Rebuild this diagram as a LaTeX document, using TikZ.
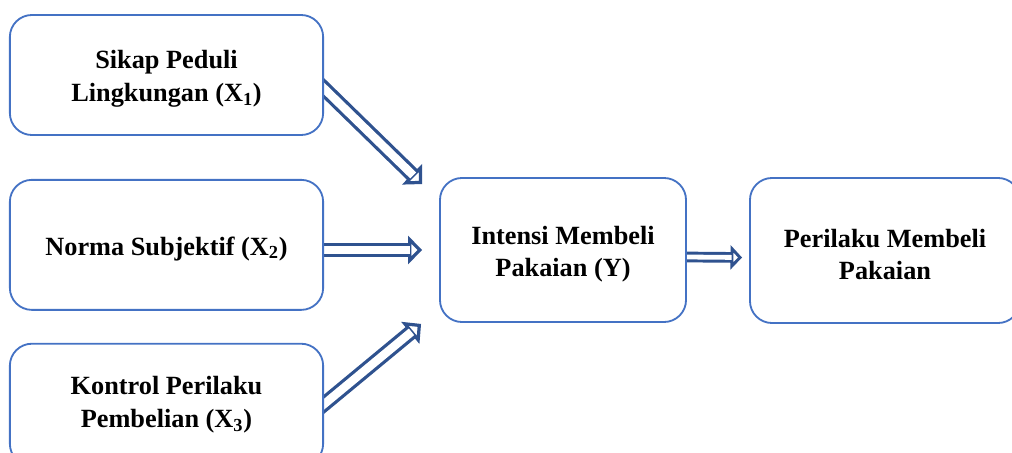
\documentclass[tikz,border=0pt]{standalone}
\usepackage{fontspec}
\setmainfont{Liberation Serif}
\usetikzlibrary{arrows.meta,positioning,calc,backgrounds}

\definecolor{boxblue}{HTML}{4472C4}
\definecolor{arrblue}{HTML}{2F528F}
\newcommand{\topstrut}{\rule{0pt}{18.5pt}}

\begin{document}
\begin{tikzpicture}[
    x=0.025cm, y=-0.025cm,
    var/.style={draw=boxblue, line width=1.3pt, rounded corners=0.55cm, fill=white, font=\fontsize{18.7}{23}\selectfont\bfseries, align=center, inner sep=0pt},
    hollow/.style={draw=arrblue, line width=2.3pt, -{Triangle[open, fill=white, length=0.35cm, width=0.7cm]},
        postaction={draw=arrblue, -, double=white, double distance=0.21cm, shorten >=0.31cm}},
    hollow small/.style={draw=arrblue, line width=2.1pt, -{Triangle[open, fill=white, length=0.29cm, width=0.6cm]},
        postaction={draw=arrblue, -, double=white, double distance=0.12cm, shorten >=0.26cm}}
]
    \useasboundingbox (0,0) rectangle (1012,453);
    \clip (0,0) rectangle (1012,453);
    % independent variables
    \node[var, minimum width=7.83cm, minimum height=3cm] (x1) at (166.5,75) {\topstrut Sikap Peduli\\Lingkungan (X\textsubscript{1})};
    \node[var, minimum width=7.83cm, minimum height=3.25cm, below=1.075cm of x1] (x2) {\topstrut Norma Subjektif (X\textsubscript{2})};
    \node[var, minimum width=7.83cm, minimum height=3.05cm, below=0.8cm of x2] (x3) {Kontrol Perilaku\\Pembelian (X\textsubscript{3})};
    % intention and behaviour
    \node[var, minimum width=6.15cm, minimum height=3.6cm] (y) at (563,250) {\topstrut Intensi Membeli\\Pakaian (Y)};
    \node[var, minimum width=6.75cm, minimum height=3.625cm] (p) at (885,250.5) {\topstrut Perilaku Membeli\\Pakaian};

    \begin{scope}[on background layer]
        \draw[hollow] ([shift={(-20,-6)}]x1.east) -- ([shift={(-17,7)}]y.north west);
        \draw[hollow] (x2.east |- y.west) -- ([shift={(-17,0)}]y.west);
        \draw[hollow] ([shift={(-20,16)}]x3.east) -- ([shift={(-18,1)}]y.south west);
        \draw[hollow small] ([shift={(0,7)}]y.east) -- ([shift={(-7,7)}]p.west);
    \end{scope}
\end{tikzpicture}
\end{document}
